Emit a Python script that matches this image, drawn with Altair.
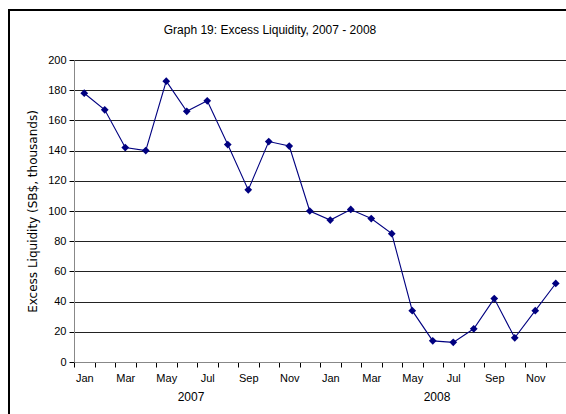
import json
import altair as alt
import pandas as pd

month_names = ["Jan", "Feb", "Mar", "Apr", "May", "Jun",
               "Jul", "Aug", "Sep", "Oct", "Nov", "Dec"]
years = ["2007", "2008"]
values_2007 = [178, 167, 142, 140, 186, 166, 173, 144, 114, 146, 143, 100]
values_2008 = [94, 101, 95, 85, 34, 14, 13, 22, 42, 16, 34, 52]
y_ticks = [0, 20, 40, 60, 80, 100, 120, 140, 160, 180, 200]
title_text = "Graph 19: Excess Liquidity, 2007 - 2008"

rows = []
for yi, (year, vals) in enumerate(zip(years, [values_2007, values_2008])):
    for mi, v in enumerate(vals):
        rows.append({"year": year, "month": month_names[mi],
                     "pos": yi * 12 + mi + 0.5, "value": v})
df = pd.DataFrame(rows)
n = len(df)

year_df = pd.DataFrame({"year": years, "pos": [i * 12 + 6 for i in range(len(years))]})

W, H = 492, 302
FONT = "Liberation Sans"
NAVY = "#000080"

tick_values = [k / 2 for k in range(2 * n + 1)]
label_expr = (
    "(datum.value % 1 == 0.5 && floor(datum.value) % 2 == 0) ? "
    + json.dumps(month_names) + "[floor(datum.value) % 12] : ''"
)

x_scale = alt.Scale(domain=[0, n], nice=False, zero=False)
y_scale = alt.Scale(domain=[0, 200], nice=False)

x_axis = alt.Axis(
    values=tick_values, labelExpr=label_expr, title=None, grid=False,
    labelOverlap=False, labelFlush=False, labelFont=FONT, labelFontSize=11,
    labelColor="#000", labelPadding=5, tickSize=5, tickColor="#000",
    tickOpacity={"condition": {"test": "datum.value % 1 != 0", "value": 0}, "value": 1},
    domainColor="#888", domainWidth=1,
)
y_axis = alt.Axis(
    values=y_ticks, title="Excess Liquidity (SB$, thousands)",
    titleFont="DejaVu Sans", titleFontSize=12, titleFontWeight="normal",
    titleColor="#000", titlePadding=8, labelOverlap=False,
    labelFont=FONT, labelFontSize=11, labelColor="#000", labelPadding=3,
    tickSize=5, tickColor="#000", grid=True, gridColor="#222", gridWidth=1,
    domainColor="#888", domainWidth=1,
)

x_enc = alt.X("pos:Q", scale=x_scale, axis=x_axis)
y_enc = alt.Y("value:Q", scale=y_scale, axis=y_axis)

base = alt.Chart(df)
line = base.mark_line(color=NAVY, strokeWidth=1.1).encode(x=x_enc, y=y_enc)
points = base.mark_point(shape="diamond", filled=True, size=60, color=NAVY, opacity=1).encode(
    x=x_enc, y=y_enc,
)
year_text = alt.Chart(year_df).mark_text(
    font=FONT, fontSize=12, color="#000", baseline="middle", dx=-6
).encode(
    x=x_enc,
    y=alt.value(H + 35),
    text="year:N",
)
title_mark = alt.Chart(pd.DataFrame({"t": [title_text]})).mark_text(
    font=FONT, fontSize=12, color="#000", baseline="middle", align="center"
).encode(
    x=alt.value(196), y=alt.value(-30), text="t:N",
)
frame = alt.Chart(pd.DataFrame({"a": [0]})).mark_rect(
    fill=None, stroke="#000", strokeWidth=2
).encode(
    x=alt.value(-65), x2=alt.value(W + 20),
    y=alt.value(-50), y2=alt.value(H + 80),
)

chart = alt.layer(line, points, year_text, title_mark, frame).properties(
    width=W, height=H,
    autosize=alt.AutoSizeParams(type="none"),
    padding={"left": 74, "top": 60, "right": 0, "bottom": 52},
).configure_view(stroke="#888", strokeWidth=1).configure(background="white")

chart.save("out.html", embed_options={"renderer": "svg", "actions": False})
